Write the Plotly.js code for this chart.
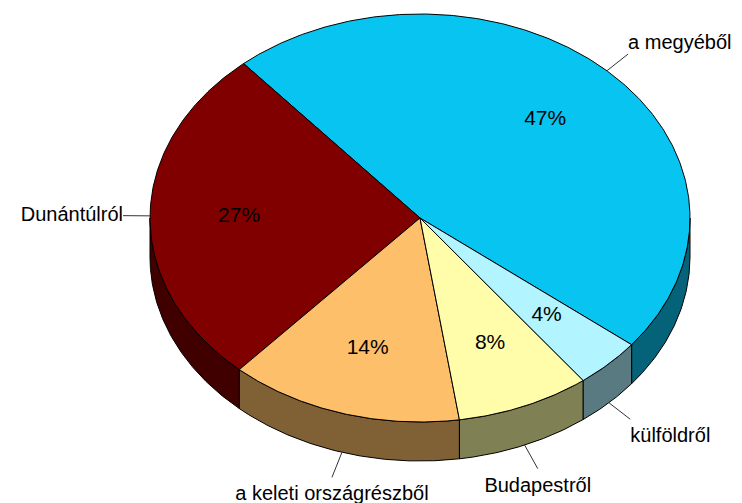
<!DOCTYPE html>
<html>
<head>
<meta charset="utf-8">
<script src="https://cdn.plot.ly/plotly-3.0.1.min.js"></script>
<style>html,body{margin:0;padding:0;background:#fff;}#chart{width:742px;height:503px;}</style>
</head>
<body>
<div id="chart"></div>
<script>
// ---- data ----
const labels = ['a megyéből', 'Dunántúlról', 'a keleti országrészből', 'Budapestről', 'külföldről'];
const values = [47, 27, 14, 8, 4];
const topColors = ['#08C4F0', '#800000', '#FDBF6A', '#FFFDAA', '#B2F4FF'];
const sideColors = ['#046279', '#400000', '#806035', '#808055', '#587A80'];

// ---- geometry (layout, not data) ----
const CX = 420, CY = 218, RX = 270, RY = 204, DEPTH = 39;
const START = -38.4; // degrees, counter-clockwise order
const LABEL_F = 0.67, LEADER = 27, BOTTOM_GAP = 8;

const total = values.reduce((a, b) => a + b, 0);
const rad = d => d * Math.PI / 180;
const px = t => CX + RX * Math.cos(rad(t));
const py = t => CY - RY * Math.sin(rad(t));

function arc(a, b, dy) {
  const xs = [], ys = [];
  const n = Math.max(2, Math.ceil(Math.abs(b - a) / 0.5));
  for (let i = 0; i <= n; i++) {
    const t = a + (b - a) * i / n;
    xs.push(px(t)); ys.push(py(t) + (dy || 0));
  }
  return [xs, ys];
}

const sideTraces = [], topTraces = [];
const pctX = [], pctY = [], pctT = [];
const lineX = [], lineY = [];
const lblX = [], lblY = [], lblT = [], lblPos = [];

let acc = START;
values.forEach((v, i) => {
  const a = acc, b = acc + v / total * 360;
  acc = b;
  // visible side: parts where sin(t) < 0
  [[-180, 0], [180, 360], [540, 720]].forEach(([lo, hi]) => {
    const s = Math.max(a, lo), e = Math.min(b, hi);
    if (e > s) {
      const [tx, ty] = arc(s, e, 0);
      const [bx, by] = arc(e, s, DEPTH);
      sideTraces.push({
        type: 'scatter', mode: 'lines', fill: 'toself',
        x: tx.concat(bx, [tx[0]]), y: ty.concat(by, [ty[0]]),
        fillcolor: sideColors[i], line: {color: '#000', width: 1},
        hoverinfo: 'skip', showlegend: false
      });
    }
  });
  const [ax, ay] = arc(a, b, 0);
  topTraces.push({
    type: 'scatter', mode: 'lines', fill: 'toself',
    x: [CX].concat(ax, [CX]), y: [CY].concat(ay, [CY]),
    fillcolor: topColors[i], line: {color: '#000', width: 1},
    hoverinfo: 'skip', showlegend: false
  });
  const m = (a + b) / 2;
  const c = Math.cos(rad(m)), s = Math.sin(rad(m));
  pctX.push(CX + LABEL_F * RX * c);
  pctY.push(CY - LABEL_F * RY * s);
  pctT.push(Math.round(v / total * 100) + '%');
  // leader line
  const x0 = px(m), y0 = py(m) + (s < -0.05 ? DEPTH : 0);
  const nx = RX * c, ny = -RY * s, nl = Math.hypot(nx, ny);
  const x1 = x0 + nx / nl * LEADER, y1 = y0 + ny / nl * LEADER;
  lineX.push(x0, x1, null); lineY.push(y0, y1, null);
  const hpos = c > 0.45 ? 'right' : (c < -0.45 ? 'left' : 'center');
  const vpos = Math.abs(s) < 0.2 ? 'middle' : (s > 0 ? 'top' : 'bottom');
  lblX.push(x1); lblY.push(y1 + (vpos === 'bottom' ? BOTTOM_GAP : 0));
  lblT.push(labels[i]);
  lblPos.push(vpos + ' ' + hpos);
});

const traces = sideTraces.concat(topTraces, [
  {type: 'scatter', mode: 'lines', x: lineX, y: lineY,
   line: {color: '#333', width: 1}, hoverinfo: 'skip', showlegend: false},
  {type: 'scatter', mode: 'text', x: pctX, y: pctY, text: pctT,
   textposition: 'middle center',
   textfont: {family: 'Liberation Sans Narrow, Arial Narrow, Liberation Sans, Arial, sans-serif', size: 21, color: '#000'},
   hoverinfo: 'skip', showlegend: false},
  {type: 'scatter', mode: 'text', x: lblX, y: lblY, text: lblT,
   textposition: lblPos,
   textfont: {family: 'Liberation Sans, Arial, sans-serif', size: 20, color: '#000'},
   hoverinfo: 'skip', showlegend: false}
]);

const layout = {
  width: 742, height: 503,
  margin: {l: 0, r: 0, t: 0, b: 0},
  paper_bgcolor: '#fff', plot_bgcolor: '#fff',
  xaxis: {range: [0, 742], visible: false, fixedrange: true},
  yaxis: {range: [503, 0], visible: false, fixedrange: true},
  showlegend: false
};
Plotly.newPlot('chart', traces, layout, {staticPlot: true, displayModeBar: false});
</script>
</body>
</html>
